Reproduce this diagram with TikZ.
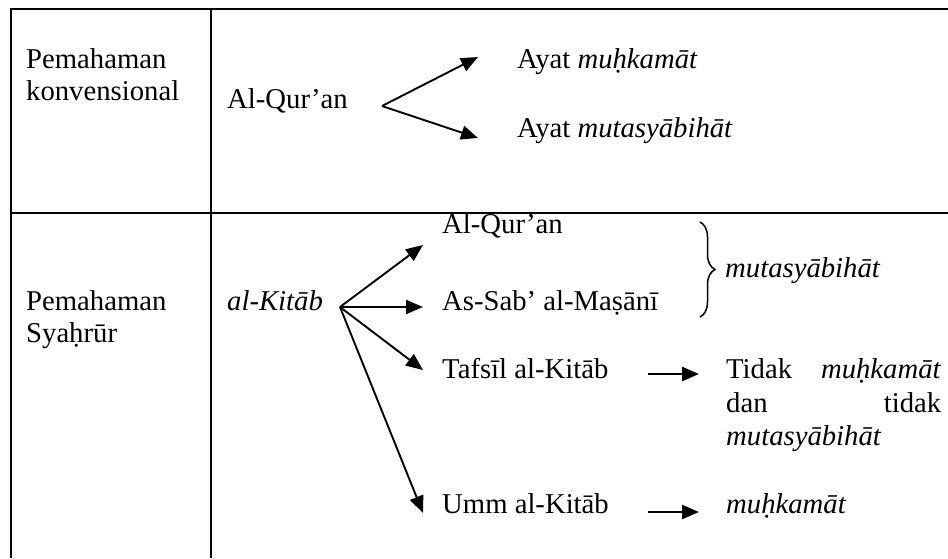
\documentclass[tikz,border=0pt]{standalone}
\usepackage{fontspec}
\setmainfont{Liberation Serif}
\usetikzlibrary{arrows.meta,decorations.pathreplacing}
\begin{document}
\begin{tikzpicture}[x=1pt,y=-1pt,
  txt/.style={anchor=base west,inner sep=0pt,font=\fontsize{28.7}{33}\selectfont},
  rule/.style={line width=2.6pt},
  arr/.style={line width=1.9pt,-{Triangle[length=17pt,width=14pt]}},
  shortarr/.style={line width=2.6pt,-{Triangle[length=17pt,width=14pt]}},
  bracestyle/.style={line width=1.5pt,decorate,decoration={brace,amplitude=15pt}}]
\useasboundingbox (0,0) rectangle (948,558);
% table rules
\draw[rule] (11,558) -- (11,9) -- (948,9);
\draw[rule] (211,9) -- (211,558);
\draw[rule] (11,213) -- (948,213);

% row 1
\node[txt] (p1a) at (26,68) {Pemahaman};
\node[txt] (p1b) at (26,100) {konvensional};
\node[txt] (q1) at (227,108) {Al-Qur’an};
\node[txt] (am) at (517,68) {Ayat \textit{muḥkamāt}};
\node[txt] (as) at (517,137) {Ayat \textit{mutasyābihāt}};
\coordinate (o1) at (382,106);
\coordinate (t1a) at (478,57);
\coordinate (t1b) at (478,138);
\draw[arr] (o1) -- (t1a);
\draw[arr] (o1) -- (t1b);

% row 2
\node[txt] (p2a) at (26,310) {Pemahaman};
\node[txt] (p2b) at (26,342) {Syaḥrūr};
\node[txt] (kit) at (227,310) {\textit{al-Kitāb}};
\node[txt] (q2) at (442,233) {Al-Qur’an};
\node[txt] (sab) at (442,310) {As-Sab’ al-Maṣānī};
\node[txt] (taf) at (442,378) {Tafsīl al-Kitāb};
\node[txt] (umm) at (442,513) {Umm al-Kitāb};
\coordinate (o2) at (340,307);
\coordinate (t2a) at (423,245);
\coordinate (t2b) at (423,307);
\coordinate (t2c) at (423,370);
\coordinate (t2d) at (423,513);
\draw[arr] (o2) -- (t2a);
\draw[arr] (o2) -- (t2b);
\draw[arr] (o2) -- (t2c);
\draw[arr] (o2) -- (t2d);

% brace
\coordinate (bt) at (700,222);
\coordinate (bb) at (700,317);
\draw[bracestyle] (bt) -- (bb);
\node[txt] (mb) at (725,277) {\textit{mutasyābihāt}};

% short arrows
\coordinate (s1a) at (648,374);
\coordinate (s1b) at (699,374);
\coordinate (s2a) at (648,512);
\coordinate (s2b) at (699,512);
\draw[shortarr] (s1a) -- (s1b);
\draw[shortarr] (s2a) -- (s2b);

\node[txt] (l1) at (726,378) {\hbox to 215pt{Tidak\hfill\textit{muḥkamāt}}};
\node[txt] (l2) at (726,412) {\hbox to 215pt{dan\hfill tidak}};
\node[txt] (l3) at (726,445) {\textit{mutasyābihāt}};
\node[txt] (mk) at (726,513) {\textit{muḥkamāt}};
\end{tikzpicture}
\end{document}
